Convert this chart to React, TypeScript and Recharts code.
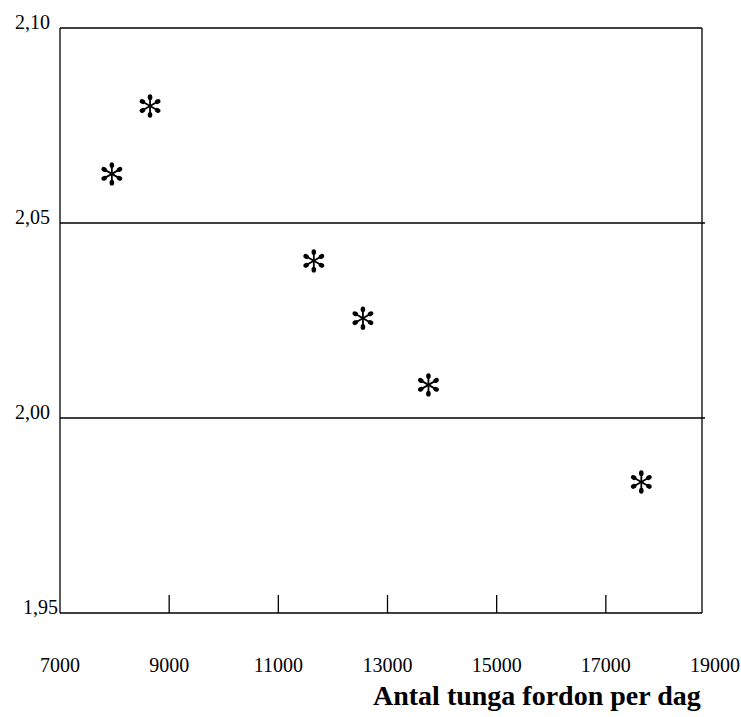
import { ScatterChart, Scatter, XAxis, YAxis, ReferenceLine } from 'recharts'

// antal tunga fordon per dag (x) vs värde (y)
const vehicles = [7950, 8650, 11650, 12550, 13750, 17650]
const values = [2.0626, 2.08, 2.0403, 2.0256, 2.0085, 1.9836]

const xTicks = [7000, 9000, 11000, 13000, 15000, 17000, 19000]
const yTicks = [1.95, 2.0, 2.05, 2.1]

const FRAME_RIGHT = 18762
const GRID_RIGHT = 18817

const data = vehicles.map((x, i) => ({ x, y: values[i] }))

const FONT = '"Liberation Serif", "Times New Roman", serif'

function Star(props: any) {
  const { cx, cy } = props
  if (cx == null || cy == null) return null
  const arms = [90, 30, 150, 270, 210, 330]
  return (
    <g>
      {arms.map((a) => {
        const r = (a * Math.PI) / 180
        const dx = Math.cos(r)
        const dy = -Math.sin(r)
        return (
          <g key={a}>
            <line x1={cx} y1={cy} x2={cx + dx * 8} y2={cy + dy * 8} stroke="#000" strokeWidth={1.8} />
            <ellipse
              cx={cx + dx * 8.8}
              cy={cy + dy * 8.8}
              rx={2.9}
              ry={2.3}
              fill="#000"
              transform={`rotate(${-a} ${cx + dx * 8.8} ${cy + dy * 8.8})`}
            />
          </g>
        )
      })}
    </g>
  )
}

function XTick(props: any) {
  const { x, y, payload } = props
  const v = payload.value
  const inner = v !== 7000 && v !== 19000
  return (
    <g>
      {inner && <line x1={x} y1={y - 18} x2={x} y2={y} stroke="#000" strokeWidth={1.3} />}
      <text x={x} y={y + 52} textAnchor="middle" dominantBaseline="central" fontFamily={FONT} fontSize={20} fill="#000">
        {v}
      </text>
    </g>
  )
}

function YTick(props: any) {
  const { x, y, payload } = props
  const v = payload.value as number
  const right = v === 1.95 ? x - 2 : x - 10
  return (
    <text x={right} y={y - 6} textAnchor="end" dominantBaseline="central" fontFamily={FONT} fontSize={20} fill="#000">
      {v.toFixed(2).replace('.', ',')}
    </text>
  )
}

export default function App() {
  return (
    <div style={{ position: 'absolute', left: 0, top: 0, width: 741, height: 717, background: '#fff' }}>
      <ScatterChart width={741} height={717} margin={{ top: 28, right: 26, bottom: 0, left: 0 }}>
        <XAxis
          type="number"
          dataKey="x"
          domain={[7000, 19000]}
          ticks={xTicks}
          interval={0}
          axisLine={false}
          tickLine={false}
          tickSize={0}
          tickMargin={0}
          height={104}
          tick={<XTick />}
        />
        <YAxis
          type="number"
          dataKey="y"
          domain={[1.95, 2.1]}
          ticks={yTicks}
          interval={0}
          width={60}
          axisLine={{ stroke: '#000', strokeWidth: 1.3 }}
          tickLine={false}
          tickSize={0}
          tickMargin={0}
          tick={<YTick />}
        />
        <ReferenceLine segment={[{ x: 7000, y: 2.1 }, { x: FRAME_RIGHT, y: 2.1 }]} stroke="#000" strokeWidth={1.3} />
        <ReferenceLine segment={[{ x: 7000, y: 1.95 }, { x: FRAME_RIGHT, y: 1.95 }]} stroke="#000" strokeWidth={1.3} />
        <ReferenceLine segment={[{ x: FRAME_RIGHT, y: 1.95 }, { x: FRAME_RIGHT, y: 2.1 }]} stroke="#000" strokeWidth={1.3} />
        <ReferenceLine segment={[{ x: 7000, y: 2.05 }, { x: GRID_RIGHT, y: 2.05 }]} stroke="#000" strokeWidth={1.3} />
        <ReferenceLine segment={[{ x: 7000, y: 2.0 }, { x: GRID_RIGHT, y: 2.0 }]} stroke="#000" strokeWidth={1.3} />
        <Scatter data={data} shape={<Star />} isAnimationActive={false} />
      </ScatterChart>
      <div
        style={{
          position: 'absolute',
          left: 373,
          top: 680,
          fontFamily: FONT,
          fontWeight: 'bold',
          fontSize: 28,
          whiteSpace: 'nowrap',
          lineHeight: '32px',
        }}
      >
        Antal tunga fordon per dag
      </div>
    </div>
  )
}
